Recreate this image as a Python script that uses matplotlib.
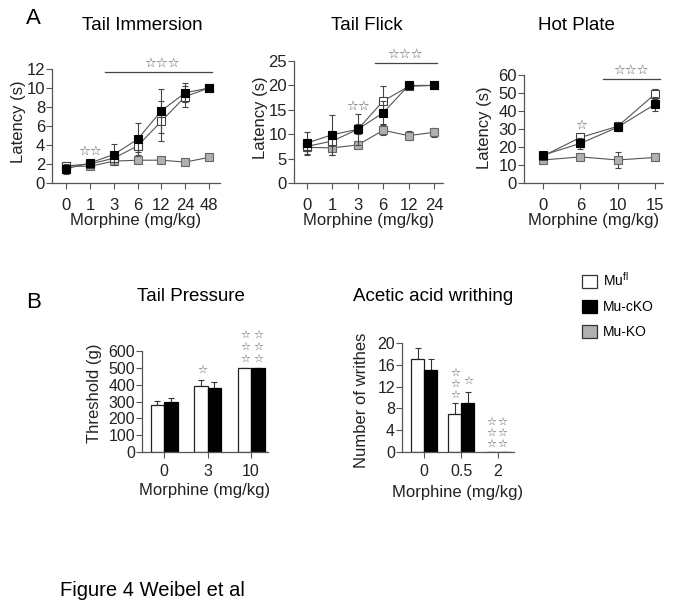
import matplotlib
matplotlib.use("Agg")
import matplotlib.pyplot as plt
from matplotlib.patches import Patch
from matplotlib.lines import Line2D
import numpy as np

plt.rcParams['font.family'] = ['Liberation Sans', 'DejaVu Sans']
plt.rcParams['mathtext.fontset'] = 'custom'
plt.rcParams['mathtext.rm'] = 'Liberation Sans'
plt.rcParams['mathtext.it'] = 'Liberation Sans'

# ---------------- data ----------------
groups = ['Mu$^{\\mathrm{fl}}$', 'Mu-cKO', 'Mu-KO']

# Tail immersion
ti_doses = ['0', '1', '3', '6', '12', '24', '48']
ti_fl = [1.8, 2.0, 2.6, 3.9, 6.5, 9.1, 10.0]
ti_cko = [1.5, 2.1, 3.0, 4.6, 7.6, 9.5, 10.0]
ti_ko = [1.8, 1.75, 2.3, 2.4, 2.4, 2.2, 2.7]
ti_fl_err = [0.3, 0.3, 0.3, 0.6, 2.1, 1.1, 0.2]
ti_cko_err = [0.5, 0.2, 1.1, 1.7, 2.3, 1.0, 0.2]
ti_ko_err = [0.2, 0.2, 0.2, 0.2, 0.2, 0.2, 0.2]

# Tail flick
tf_doses = ['0', '1', '3', '6', '12', '24']
tf_fl = [7.5, 8.6, 11.0, 16.8, 19.8, 20.0]
tf_cko = [8.2, 9.9, 11.0, 14.4, 20.0, 20.0]
tf_ko = [7.3, 7.2, 7.8, 10.8, 9.7, 10.4]
tf_fl_err = [1.0, 1.0, 1.0, 3.1, 0.5, 0.3]
tf_cko_err = [2.3, 4.1, 3.2, 2.4, 0.3, 0.3]
tf_ko_err = [1.5, 1.4, 0.5, 1.0, 0.9, 0.9]

# Hot plate
hp_doses = ['0', '6', '10', '15']
hp_fl = [15.0, 25.3, 31.5, 49.5]
hp_cko = [15.5, 22.0, 31.0, 43.8]
hp_ko = [12.8, 14.5, 12.8, 14.2]
hp_fl_err = [1.0, 2.2, 2.5, 3.0]
hp_cko_err = [1.0, 3.0, 1.5, 4.0]
hp_ko_err = [1.0, 1.0, 4.7, 1.0]

# Tail pressure
tp_doses = ['0', '3', '10']
tp_fl = [280, 390, 500]
tp_cko = [300, 380, 500]
tp_fl_err = [25, 35, 0]
tp_cko_err = [20, 35, 0]

# Acetic acid writhing
aw_doses = ['0', '0.5', '2']
aw_fl = [17, 7, 0]
aw_cko = [15, 9, 0]
aw_fl_err = [2, 2, 0]
aw_cko_err = [2, 2, 0]

# ---------------- layout helpers ----------------
W, H = 683, 610
fig = plt.figure(figsize=(W / 100, H / 100), dpi=100)

SPINE = '#555555'
STAR = '#5a5a5a'


def add_ax(x0, y0, x1, y1):
    ax = fig.add_axes([x0 / W, 1 - y1 / H, (x1 - x0) / W, (y1 - y0) / H])
    ax._pxbox = (x0, y0, x1, y1)
    for s in ['top', 'right']:
        ax.spines[s].set_visible(False)
    for s in ['left', 'bottom']:
        ax.spines[s].set_color(SPINE)
        ax.spines[s].set_linewidth(0.9)
    ax.tick_params(direction='out', length=4, width=0.8, color=SPINE,
                   labelsize=12, labelcolor='#222222')
    ax.tick_params(axis='y', pad=1)
    return ax


def label_px(ax, xlabel, ylabel, xl_y, yl_x, yl_y=None, size=12):
    x0, y0, x1, y1 = ax._pxbox
    ax.set_xlabel(xlabel, fontsize=size, color='#222222')
    ax.set_ylabel(ylabel, fontsize=size, color='#222222')
    ax.xaxis.label.set_va('center')
    ax.yaxis.label.set_va('center')
    ax.xaxis.set_label_coords(0.5, (y1 - xl_y) / (y1 - y0))
    if yl_y is None:
        yl_y = (y0 + y1) / 2
    ax.yaxis.set_label_coords((yl_x - x0) / (x1 - x0), (y1 - yl_y) / (y1 - y0))


def ftext(x, y, s, size, **kw):
    kw.setdefault('ha', 'center')
    kw.setdefault('va', 'center')
    fig.text(x / W, 1 - y / H, s, fontsize=size, **kw)


def stars(x, y, s, size=9.5):
    ftext(x, y, s, size, color=STAR, family=['DejaVu Sans'])


def hline(x0, x1, y):
    fig.add_artist(Line2D([x0 / W, x1 / W], [1 - y / H, 1 - y / H],
                          color='#444444', lw=0.9, transform=fig.transFigure))


def line_panel(ax, doses, fl, cko, ko, fl_e, cko_e, ko_e):
    x = np.arange(len(doses))
    ekw = dict(ecolor='#444444', elinewidth=0.8, capsize=2, capthick=0.8)
    ms = 5.5
    ax.errorbar(x, ko, yerr=ko_e, color='#555555', lw=0.8, marker='s', ms=ms,
                mfc='#b0b0b0', mec='#666666', mew=0.8, **ekw, zorder=2)
    ax.errorbar(x, fl, yerr=fl_e, color='#555555', lw=0.8, marker='s', ms=ms,
                mfc='white', mec='#444444', mew=0.8, **ekw, zorder=3)
    ax.errorbar(x, cko, yerr=cko_e, color='#555555', lw=0.8, marker='s', ms=ms,
                mfc='black', mec='black', mew=0.8, **ekw, zorder=4)
    ax.set_xticks(x)
    ax.set_xticklabels(doses)
    ax.tick_params(axis='x', pad=7)


def bar_panel(ax, doses, fl, cko, fl_e, cko_e, width):
    x = np.arange(len(doses))
    ekw = dict(ecolor='#333333', elinewidth=0.8, capsize=2.5, capthick=0.8)
    ax.bar(x - width / 2, fl, width, color='white', edgecolor='#222222', lw=0.9, zorder=2)
    ax.bar(x + width / 2, cko, width, color='black', edgecolor='black', lw=0.9, zorder=2)
    ax.errorbar(x - width / 2, fl, yerr=[np.zeros(len(fl)), fl_e], fmt='none', **ekw, zorder=1)
    ax.errorbar(x + width / 2, cko, yerr=[np.zeros(len(cko)), cko_e], fmt='none', **ekw, zorder=1)
    ax.set_xticks(x)
    ax.set_xticklabels(doses)
    ax.tick_params(axis='x', pad=5, labelsize=11.5)
    ax.tick_params(axis='y', labelsize=11.5)


# ---------------- Panel A ----------------
ftext(33, 18, 'A', 16)

# Tail immersion
ax1 = add_ax(52, 69, 220, 183)
line_panel(ax1, ti_doses, ti_fl, ti_cko, ti_ko, ti_fl_err, ti_cko_err, ti_ko_err)
ax1.set_ylim(0, 12)
ax1.set_yticks(range(0, 13, 2))
ax1.set_xlim(-0.59, 6.46)
label_px(ax1, 'Morphine (mg/kg)', 'Latency (s)', 220, 19, 122)
ftext(142, 25, 'Tail Immersion', 13.5)
hline(105, 212, 72)
stars(162, 63, '☆☆☆')
stars(90, 151, '☆☆')

# Tail flick
ax2 = add_ax(294, 61, 443, 183)
line_panel(ax2, tf_doses, tf_fl, tf_cko, tf_ko, tf_fl_err, tf_cko_err, tf_ko_err)
ax2.set_ylim(0, 25)
ax2.set_yticks(range(0, 26, 5))
ax2.set_xlim(-0.51, 5.35)
label_px(ax2, 'Morphine (mg/kg)', 'Latency (s)', 220, 260, 118)
ftext(367, 25, 'Tail Flick', 13.5)
hline(375, 437, 63)
stars(405, 54, '☆☆☆')
stars(358, 106, '☆☆')

# Hot plate
ax3 = add_ax(524, 75, 663, 183)
line_panel(ax3, hp_doses, hp_fl, hp_cko, hp_ko, hp_fl_err, hp_cko_err, hp_ko_err)
ax3.set_ylim(0, 60)
ax3.set_yticks(range(0, 61, 10))
ax3.set_xlim(-0.51, 3.21)
label_px(ax3, 'Morphine (mg/kg)', 'Latency (s)', 220, 485, 128)
ftext(576, 25, 'Hot Plate', 13.5)
hline(603, 660, 79)
stars(631, 70, '☆☆☆')
stars(581, 125, '☆')

# ---------------- Panel B ----------------
ftext(34, 302, 'B', 16)

# Tail pressure
ax4 = add_ax(142, 351, 268, 452)
bar_panel(ax4, tp_doses, tp_fl, tp_cko, tp_fl_err, tp_cko_err, 0.31)
ax4.set_ylim(0, 600)
ax4.set_yticks(range(0, 601, 100))
ax4.set_xlim(-0.506, 2.39)
label_px(ax4, 'Morphine (mg/kg)', 'Threshold (g)', 490, 94, 393)
ftext(191, 297, 'Tail Pressure', 13.5)
SB = 8
stars(202, 370, '☆', SB)
for yy in (335, 347, 359):
    stars(245, yy, '☆', SB)
    stars(258, yy, '☆', SB)

# Acetic acid writhing
ax5 = add_ax(402, 343, 514, 452)
bar_panel(ax5, aw_doses, aw_fl, aw_cko, aw_fl_err, aw_cko_err, 0.35)
ax5.set_ylim(0, 20)
ax5.set_yticks(range(0, 21, 4))
ax5.set_xlim(-0.595, 2.43)
label_px(ax5, 'Morphine (mg/kg)', 'Number of writhes', 492, 362, 400)
ftext(433, 297, 'Acetic acid writhing', 13.5)
for yy in (373, 384, 395):
    stars(455, yy, '☆', SB)
stars(468, 381, '☆', SB)
for yy in (422, 433, 444):
    stars(491, yy, '☆', SB)
    stars(502, yy, '☆', SB)

# Legend
handles = [Patch(facecolor='white', edgecolor='#333333', lw=0.9),
           Patch(facecolor='black', edgecolor='black', lw=0.9),
           Patch(facecolor='#b0b0b0', edgecolor='#333333', lw=0.9)]
fig.legend(handles, groups, loc='upper left', bbox_to_anchor=(582 / W, 1 - 271 / H),
           frameon=False, fontsize=10, handlelength=1.05, handleheight=1.05,
           handletextpad=0.45, labelspacing=0.8, borderpad=0, borderaxespad=0)

ftext(60, 590, 'Figure 4 Weibel et al', 14.5, ha='left')

fig.savefig('out.png', dpi=100, facecolor='white')
